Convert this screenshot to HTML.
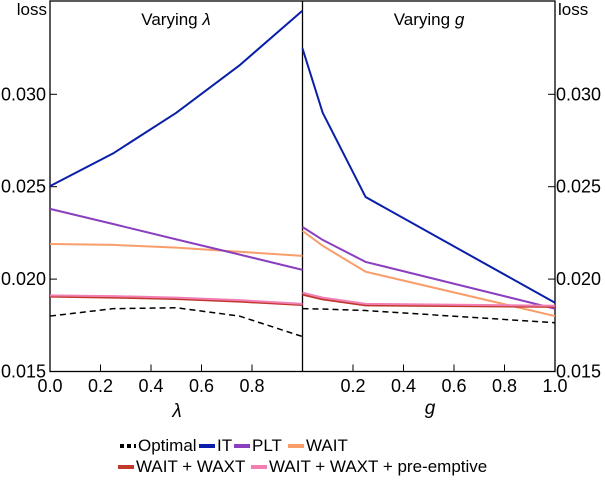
<!DOCTYPE html>
<html><head><meta charset="utf-8"><style>
body{margin:0;background:#fff;}
svg text{font-family:"Liberation Sans",Arial,sans-serif;fill:#000;}
</style></head><body>
<svg width="605" height="476" id="c">
<g id="g"></g>
</svg>
<script>
const lambdas=[0,0.25,0.5,0.75,1];
const gs=[0,0.08,0.25,1];
const yTicks=[0.015,0.020,0.025,0.030];
const xTicksL=["0.0","0.2","0.4","0.6","0.8"];
const xTicksR=["0.2","0.4","0.6","0.8","1.0"];
const seriesNames=["Optimal","IT","PLT","WAIT","WAIT + WAXT","WAIT + WAXT + pre-emptive"];
const colors=["#000","#0a1fa8","#8a3fbf","#f99d6a","#c0392b","#f27fb4"];
const lamOptimal=[0.0180,0.0184,0.01845,0.0180,0.01689];
const lamIT=[0.02503,0.0268,0.0290,0.03156,0.03453];
const lamPLT=[0.0238,0.02298,0.02215,0.02133,0.0205];
const lamWAIT=[0.0219,0.02185,0.0217,0.02148,0.02126];
const lamWAXT=[0.01905,0.0190,0.01892,0.01878,0.0186];
const lamPre=[0.01912,0.01908,0.019,0.01886,0.01866];
const gOptimal=[0.0184,0.01838,0.0183,0.01764];
const gIT=[0.03248,0.0290,0.02444,0.01872];
const gPLT=[0.02282,0.02212,0.02093,0.0184];
const gWAIT=[0.02261,0.0218,0.0204,0.0180];
const gWAXT=[0.01916,0.0189,0.01858,0.0185];
const gPre=[0.01926,0.019,0.01866,0.01856];
const NS="http://www.w3.org/2000/svg";
const root=document.getElementById('g');
function el(t,a,txt){const e=document.createElementNS(NS,t);for(const k in a)e.setAttribute(k,a[k]);if(txt!=null)e.textContent=txt;root.appendChild(e);return e;}
const X0=50,XD=302.5,X1=555,T=1,B=371.5;
const y=v=>B-(v-0.015)/0.005*92.4;
const xl=v=>X0+v*(XD-X0);
const xr=v=>XD+v*(X1-XD);
let f=el('rect',{x:X0,y:T,width:X1-X0,height:B-T,fill:'none',stroke:'#000','stroke-width':1.3});

let d=el('line',{x1:XD,y1:T,x2:XD,y2:B,stroke:'#000','stroke-width':1.3});

yTicks.forEach(v=>{
 el('line',{x1:X0,x2:X0+7,y1:y(v),y2:y(v),stroke:'#000'});
 el('line',{x1:X1-7,x2:X1,y1:y(v),y2:y(v),stroke:'#000'});
 let a=el('text',{x:X0-4,y:y(v)+6,'text-anchor':'end','font-size':18},v.toFixed(3));
 
 let b=el('text',{x:X1+1,y:y(v)+6,'font-size':18},v.toFixed(3));
 
});
xTicksL.forEach(s=>{const x=xl(parseFloat(s));
 if(parseFloat(s)>0)el('line',{x1:x,x2:x,y1:B,y2:B-7,stroke:'#000'});
 let t=el('text',{x:x,y:392,'text-anchor':'middle','font-size':18},s);
 });
xTicksR.forEach(s=>{const x=xr(parseFloat(s));
 if(parseFloat(s)<1)el('line',{x1:x,x2:x,y1:B,y2:B-7,stroke:'#000'});
 let t=el('text',{x:x,y:392,'text-anchor':'middle','font-size':18},s);
 });
let t;
t=el('text',{x:47,y:15,'text-anchor':'end','font-size':17},'loss');
t=el('text',{x:558,y:15,'font-size':17},'loss');
t=el('text',{x:176,y:25,'text-anchor':'middle','font-size':17},'');
t.innerHTML='Varying <tspan font-style="italic">λ</tspan>';
t=el('text',{x:429,y:25,'text-anchor':'middle','font-size':17},'');
t.innerHTML='Varying <tspan font-style="italic">g</tspan>';
t=el('text',{x:177,y:417,'text-anchor':'middle','font-size':19,'font-style':'italic','font-family':'Liberation Serif'},'λ');
t=el('text',{x:430,y:414,'text-anchor':'middle','font-size':19,'font-style':'italic','font-family':'Liberation Serif'},'g');
const lamSeries=[lamOptimal,lamIT,lamPLT,lamWAIT,lamWAXT,lamPre];
const gSeries=[gOptimal,gIT,gPLT,gWAIT,gWAXT,gPre];
const order=[3,2,1,4,5,0];
order.forEach(i=>{
 const p1=el('polyline',{points:lambdas.map((l,k)=>xl(l)+','+y(lamSeries[i][k])).join(' '),fill:'none',stroke:colors[i],'stroke-width':i==0?1.5:2,'stroke-dasharray':i==0?'6,4':'none'});
 
 const p2=el('polyline',{points:gs.map((l,k)=>xr(l)+','+y(gSeries[i][k])).join(' '),fill:'none',stroke:colors[i],'stroke-width':i==0?1.5:2,'stroke-dasharray':i==0?'6,4':'none'});
 
});
const leg=[[120,451,0],[199,451,1],[234,451,2],[288,451,3],[118,472,4],[251,472,5]];
leg.forEach(([x,yy,i])=>{
 const m=el('line',{x1:x,x2:x+16,y1:yy-5,y2:yy-5,stroke:colors[i],'stroke-width':4,'stroke-dasharray':i==0?'4,3':'none'});
 
 const tt=el('text',{x:x+18,y:yy,'font-size':17},seriesNames[i]);
 
});
</script>
</body></html>
